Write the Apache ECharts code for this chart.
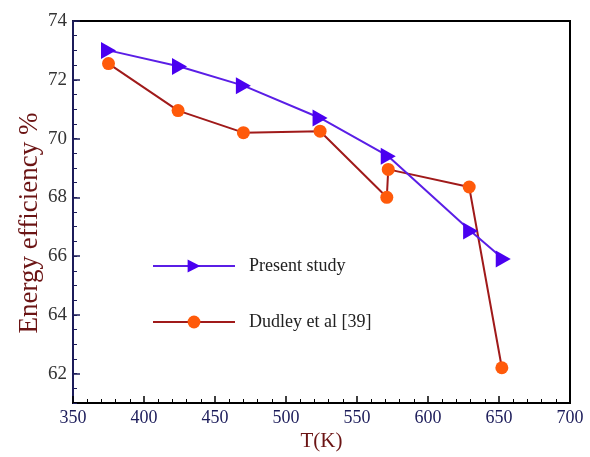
<!DOCTYPE html>
<html>
<head>
<meta charset="utf-8">
<script src="https://cdn.jsdelivr.net/npm/echarts@6/dist/echarts.min.js"></script>
<style>
  html, body { margin: 0; padding: 0; background: #fff; }
  #chart { width: 590px; height: 457px; }
</style>
</head>
<body>
<div id="chart"></div>
<script>
// present study (triangles)
var presentT = [375, 425, 470, 524, 572, 630, 653]
var presentEff = [73.0, 72.45, 71.8, 70.7, 69.4, 66.85, 65.9]
// Dudley et al [39] (circles)
var dudleyT = [375, 424, 470, 524, 571, 572, 629, 652]
var dudleyEff = [72.55, 70.95, 70.2, 70.25, 68.0, 68.95, 68.35, 62.2]
// labelled y ticks
var yTicks = [62, 64, 66, 68, 70, 72, 74]

var serif = 'Liberation Serif'
var navy = '#1c1c5a'
var chart = echarts.init(document.getElementById('chart'))

chart.setOption({
  backgroundColor: '#fff',
  animation: false,
  grid: {
    left: 73,
    right: 20,
    top: 21,
    bottom: 51,
    show: true,
    borderColor: '#000',
    borderWidth: 2
  },
  legend: {
    orient: 'vertical',
    left: 147,
    top: 252,
    itemGap: 38,
    itemWidth: 82,
    itemHeight: 16,
    textStyle: { fontFamily: serif, fontSize: 18, color: '#222', padding: [0, 0, 0, 9] },
    data: ['Present study', 'Dudley et al [39]']
  },
  xAxis: {
    type: 'value',
    min: 350,
    max: 700,
    interval: 50,
    name: 'T(K)',
    nameLocation: 'middle',
    nameGap: 28,
    nameMoveOverlap: false,
    nameTextStyle: { fontFamily: serif, fontSize: 21, color: '#6b1414' },
    axisLine: { show: true, lineStyle: { color: '#000', width: 2 } },
    axisTick: { inside: true, length: 7, lineStyle: { color: '#000', width: 1.5 } },
    minorTick: { show: true, splitNumber: 5, length: 4, lineStyle: { color: '#000' } },
    axisLabel: { fontFamily: serif, fontSize: 18, color: navy, margin: 6 },
    splitLine: { show: false }
  },
  yAxis: [
    {
      type: 'value',
      min: 61,
      max: 74,
      interval: 0.5,
      name: 'Energy efficiency %',
      nameLocation: 'middle',
      nameGap: 30,
      nameMoveOverlap: false,
      nameTextStyle: { fontFamily: serif, fontSize: 27, color: '#6b1414', padding: [0, 22, 0, 0] },
      axisLine: { show: true, lineStyle: { color: navy, width: 2 } },
      axisTick: { inside: true, length: 7, customValues: yTicks, lineStyle: { color: navy, width: 1.5 } },
      axisLabel: { fontFamily: serif, fontSize: 19, color: '#333', margin: 6, customValues: yTicks },
      splitLine: { show: false }
    },
    {
      // minor ticks only
      type: 'value',
      position: 'left',
      min: 61,
      max: 74,
      interval: 0.5,
      axisLine: { show: false },
      axisTick: { show: true, inside: true, length: 4, lineStyle: { color: navy } },
      axisLabel: { show: false },
      splitLine: { show: false }
    }
  ],
  series: [
    {
      name: 'Present study',
      type: 'line',
      data: presentT.map(function (t, i) { return [t, presentEff[i]] }),
      symbol: 'path://M0,0 L10,5 L0,10 Z',
      symbolSize: [15, 17],
      lineStyle: { color: '#5a1ee6', width: 2 },
      itemStyle: { color: '#4a00f0' },
      z: 3
    },
    {
      name: 'Dudley et al [39]',
      type: 'line',
      data: dudleyT.map(function (t, i) { return [t, dudleyEff[i]] }),
      symbol: 'circle',
      symbolSize: 13,
      lineStyle: { color: '#a01a1a', width: 2 },
      itemStyle: { color: '#ff5a0a' },
      z: 2
    }
  ]
})
</script>
</body>
</html>
